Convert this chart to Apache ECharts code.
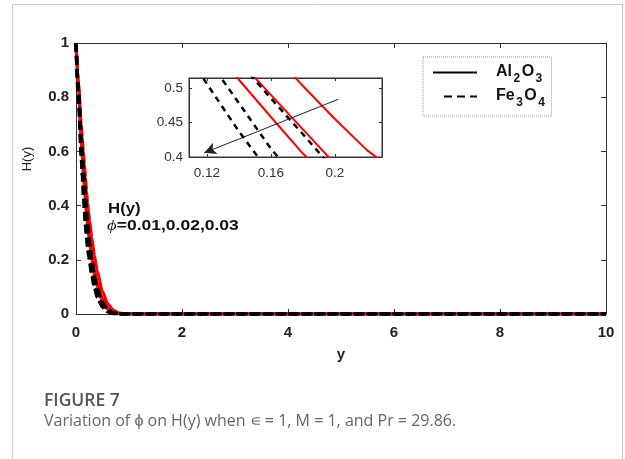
<!DOCTYPE html>
<html>
<head>
<meta charset="utf-8">
<script src="https://cdn.jsdelivr.net/npm/echarts@6/dist/echarts.min.js"></script>
<style>
html,body{margin:0;padding:0;background:#fff;}
#chart{width:625px;height:459px;}
</style>
</head>
<body>
<div id="chart"></div>
<script>
// positions along y (the independent variable)
var yPos = [0,0.05,0.1,0.12,0.14,0.16,0.18,0.2,0.22,0.24,0.26,0.3,0.35,0.4,0.5,0.6,0.7,0.8,0.9,1,2,4,6,8,10];
// Al2O3 (red solid), phi = 0.01, 0.02, 0.03
var al1 = [1,0.81,0.625,0.57,0.512,0.458,0.405,0.36,0.32,0.285,0.253,0.198,0.142,0.1,0.046,0.018,0.006,0.001,0,0,0,0,0,0,0];
var al2 = [1,0.82,0.645,0.595,0.54,0.49,0.44,0.39,0.35,0.313,0.28,0.22,0.162,0.117,0.057,0.024,0.009,0.003,0.001,0,0,0,0,0,0];
var al3 = [1,0.85,0.70,0.65,0.6,0.553,0.503,0.455,0.41,0.375,0.342,0.28,0.215,0.16,0.083,0.038,0.015,0.005,0.001,0,0,0,0,0,0];
// Fe3O4 (black dashed)
var fe1 = [1,0.78,0.58,0.506,0.437,0.375,0.322,0.277,0.243,0.212,0.185,0.14,0.095,0.062,0.025,0.008,0.002,0,0,0,0,0,0,0,0];
var fe2 = [1,0.80,0.61,0.544,0.478,0.412,0.357,0.31,0.27,0.235,0.205,0.155,0.108,0.072,0.03,0.01,0.003,0,0,0,0,0,0,0,0];
var fe3 = [1,0.82,0.645,0.59,0.538,0.485,0.433,0.38,0.335,0.295,0.26,0.2,0.14,0.095,0.042,0.015,0.005,0.001,0,0,0,0,0,0,0];
// ticks
var mainXTicks = [0,2,4,6,8,10];
var mainYTicks = [0,0.2,0.4,0.6,0.8,1];
var insetXTicks = [0.12,0.16,0.2];
var insetYTicks = [0.4,0.45,0.5];
// inset arrow (phi increasing)
var arrowFrom = [0.202,0.4836];
var arrowTo = [0.1183,0.406];

function pairs(v){ return yPos.map(function(x,i){return [x,v[i]];}); }

var chart = echarts.init(document.getElementById('chart'));
var alSets = [al1,al2,al3], feSets = [fe1,fe2,fe3];
var series = [];
alSets.forEach(function(d){
  series.push({name:'Al2O3',type:'line',xAxisIndex:0,yAxisIndex:0,data:pairs(d),symbol:'none',smooth:0.25,smoothMonotone:'x',
    lineStyle:{color:'#ff0000',width:3},itemStyle:{color:'#ff0000'},z:2});
});
feSets.forEach(function(d){
  series.push({name:'Fe3O4',type:'line',xAxisIndex:0,yAxisIndex:0,data:pairs(d),symbol:'none',smooth:0.25,smoothMonotone:'x',
    lineStyle:{color:'#000',width:3.5,type:[9,4]},itemStyle:{color:'#000'},z:3});
});
alSets.forEach(function(d){
  series.push({name:'Al2O3',type:'line',xAxisIndex:2,yAxisIndex:2,data:pairs(d),symbol:'none',
    lineStyle:{color:'#ff0000',width:2},itemStyle:{color:'#ff0000'},z:4});
});
feSets.forEach(function(d,i){
  var s = {name:'Fe3O4',type:'line',xAxisIndex:2,yAxisIndex:2,data:pairs(d),symbol:'none',
    lineStyle:{color:'#000',width:2.5,type:[6,5]},itemStyle:{color:'#000'},z:5};
  if(i===0){
    s.markLine = {silent:true,symbol:['none','arrow'],symbolSize:[9,12],label:{show:false},
      lineStyle:{color:'#222',width:1,type:'solid'},
      data:[[{coord:arrowFrom},{coord:arrowTo}]]};
  }
  series.push(s);
});

var FF = 'Liberation Sans, Arial, sans-serif';
var lblMain = {color:'#222',fontWeight:'bold',fontSize:15,fontFamily:FF};
var lblInset = {color:'#333',fontSize:13.5,fontFamily:FF};
var rich = {
  n:{fontSize:16,fontWeight:'bold',color:'#111',fontFamily:FF,lineHeight:17,verticalAlign:'top',padding:[0,1.5,0,0]},
  s:{fontSize:12,fontWeight:'bold',color:'#111',fontFamily:FF,lineHeight:12,padding:[9,1.5,0,0],verticalAlign:'top'}
};

var option = {
  animation:false,
  backgroundColor:'#fff',
  grid:[
    {left:76,top:43,width:530,height:271,show:false},
    {left:189,top:78,width:193,height:79,show:true,backgroundColor:'#fff',borderColor:'#333',borderWidth:1}
  ],
  legend:{
    left:423,top:57,orient:'vertical',
    padding:[7,5,7,10],itemGap:3,itemWidth:44,itemHeight:14,
    borderColor:'#999',borderWidth:1,borderType:'dotted',
    selectedMode:false,
    data:[
      {name:'Al2O3',icon:'path://M0,6 L44,6 L44,8 L0,8 Z',itemStyle:{color:'#000'}},
      {name:'Fe3O4',icon:'path://M0,0 L0.02,0 L0.02,0.02 L0,0.02 Z M0,13.98 L0.02,13.98 L0.02,14 L0,14 Z M11,6 L19,6 L19,8 L11,8 Z M24,6 L32,6 L32,8 L24,8 Z M37,6 L44,6 L44,8 L37,8 Z',itemStyle:{color:'#000',borderWidth:0}}
    ],
    formatter:function(n){
      if(n==='Al2O3') return '{n|Al}{s|2}{n|O}{s|3}';
      return '{n|Fe}{s|3}{n|O}{s|4}';
    },
    textStyle:{rich:rich,padding:[0,0,0,14]}
  },
  xAxis:[
    {gridIndex:0,type:'value',min:0,max:10,interval:2,position:'bottom',
      axisLine:{show:true,lineStyle:{color:'#333',width:1}},axisTick:{show:true,inside:true,length:5,lineStyle:{color:'#333'}},
      axisLabel:Object.assign({margin:11,formatter:function(v){return mainXTicks.indexOf(v)>=0?String(v):'';}},lblMain),splitLine:{show:false}},
    {gridIndex:0,type:'value',min:0,max:10,interval:2,position:'top',
      axisLine:{show:true,onZero:false,lineStyle:{color:'#333',width:1}},axisTick:{show:true,inside:true,length:5,lineStyle:{color:'#333'}},
      axisLabel:{show:false},splitLine:{show:false}},
    {gridIndex:1,type:'value',min:0.1088,max:0.2294,position:'bottom',
      axisLine:{show:true,onZero:false,lineStyle:{color:'#333',width:1}},
      axisTick:{show:true,inside:true,length:3,customValues:insetXTicks,lineStyle:{color:'#333'}},
      axisLabel:Object.assign({margin:9,customValues:insetXTicks,formatter:function(v){return String(+v.toFixed(2));}},lblInset),splitLine:{show:false}},
    {gridIndex:1,type:'value',min:0.1088,max:0.2294,position:'top',
      axisLine:{show:true,onZero:false,lineStyle:{color:'#333',width:1}},
      axisTick:{show:true,inside:true,length:3,customValues:insetXTicks,lineStyle:{color:'#333'}},
      axisLabel:{show:false},splitLine:{show:false}}
  ],
  yAxis:[
    {gridIndex:0,type:'value',min:0,max:1,interval:0.2,position:'left',
      axisLine:{show:true,lineStyle:{color:'#333',width:1}},axisTick:{show:true,inside:true,length:5,lineStyle:{color:'#333'}},
      axisLabel:Object.assign({margin:7,formatter:function(v){return String(+v.toFixed(1));}},lblMain),splitLine:{show:false}},
    {gridIndex:0,type:'value',min:0,max:1,interval:0.2,position:'right',
      axisLine:{show:true,onZero:false,lineStyle:{color:'#333',width:1}},axisTick:{show:true,inside:true,length:5,lineStyle:{color:'#333'}},
      axisLabel:{show:false},splitLine:{show:false}},
    {gridIndex:1,type:'value',min:0.4,max:0.5145,position:'left',
      axisLine:{show:true,onZero:false,lineStyle:{color:'#333',width:1}},
      axisTick:{show:true,inside:true,length:3,customValues:insetYTicks,lineStyle:{color:'#333'}},
      axisLabel:Object.assign({margin:6,customValues:insetYTicks,formatter:function(v){return String(+v.toFixed(2));}},lblInset),splitLine:{show:false}},
    {gridIndex:1,type:'value',min:0.4,max:0.5145,position:'right',
      axisLine:{show:true,onZero:false,lineStyle:{color:'#333',width:1}},
      axisTick:{show:true,inside:true,length:3,customValues:insetYTicks,lineStyle:{color:'#333'}},
      axisLabel:{show:false},splitLine:{show:false}}
  ],
  graphic:[
    {type:'rect',shape:{x:12.5,y:4.5,width:610,height:470},style:{fill:'none',stroke:'#c8c8c8',lineWidth:1},silent:true,z:-1},
    {type:'text',x:27,y:159,rotation:Math.PI/2,style:{text:'H(y)',font:'13px "Liberation Sans", Arial, sans-serif',fill:'#222',align:'center',verticalAlign:'middle'}},
    {type:'text',x:341,y:355,style:{text:'y',font:'bold 15px "Liberation Sans", Arial, sans-serif',fill:'#222',align:'center',verticalAlign:'middle'}},
    {type:'text',x:108,y:209,scaleX:1.2,style:{text:'H(y)',font:'bold 14px "Liberation Sans", Arial, sans-serif',fill:'#111',verticalAlign:'middle'}},
    {type:'text',x:107,y:226,scaleX:1.25,style:{text:'{i|ϕ}{b|=0.01,0.02,0.03}',verticalAlign:'middle',rich:{
      i:{font:'italic 15px "Liberation Serif", serif',fill:'#111'},
      b:{font:'bold 14px "Liberation Sans", Arial, sans-serif',fill:'#111'}}}},
    {type:'text',left:44,top:392,style:{text:'FIGURE 7',font:'600 17.5px "Open Sans", sans-serif',fill:'#555'}},
    {type:'text',left:44,top:413,style:{text:'Variation of ϕ on H(y) when ∊ = 1, M = 1, and Pr = 29.86.',font:'16px "Open Sans", sans-serif',fill:'#666'}}
  ],
  series:series
};
chart.setOption(option);
</script>
</body>
</html>
